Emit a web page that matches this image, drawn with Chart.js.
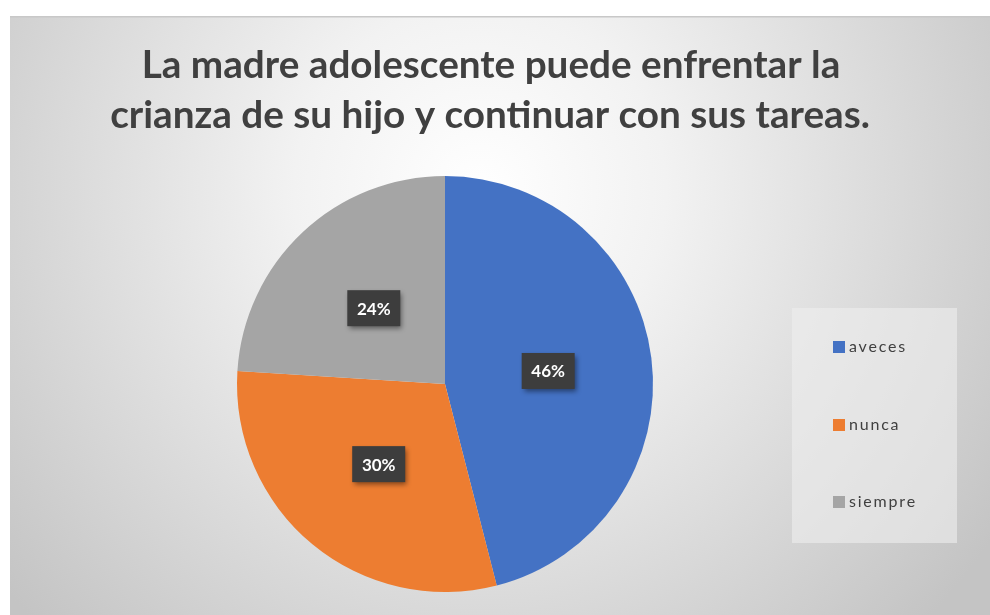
<!DOCTYPE html>
<html>
<head>
<meta charset="utf-8">
<script src="https://cdn.jsdelivr.net/npm/chart.js@4.4.1/dist/chart.umd.min.js"></script>
<style>
html,body{margin:0;padding:0;background:#fff;}
canvas{display:block;}
</style>
</head>
<body>
<canvas id="c" width="990" height="615"></canvas>
<script>
const categories = ["aveces", "nunca", "siempre"];
const values = [46, 30, 24];
const colors = ["#4472C4", "#ED7D31", "#A5A5A5"];
const titleLines = ["La madre adolescente puede enfrentar la", "crianza de su hijo y continuar con sus tareas."];

const bgPlugin = {
  id: "bg",
  beforeDraw(chart) {
    const ctx = chart.ctx;
    ctx.save();
    ctx.fillStyle = "#ffffff";
    ctx.fillRect(0, 0, chart.width, chart.height);
    const g = ctx.createRadialGradient(480, 190, 0, 480, 190, 620);
    g.addColorStop(0, "#ffffff");
    g.addColorStop(0.3, "#f2f2f2");
    g.addColorStop(1, "#c4c4c4");
    ctx.fillStyle = g;
    ctx.fillRect(10, 17, chart.width - 10, chart.height - 17);
    ctx.fillStyle = "#c8c8c8";
    ctx.fillRect(10, 16, chart.width - 10, 1.5);
    ctx.restore();
  }
};

const titlePlugin = {
  id: "centeredTitle",
  afterDraw(chart) {
    const ctx = chart.ctx;
    ctx.save();
    const fam = "Lato, 'Open Sans', sans-serif";
    ctx.font = "bold 36px " + fam;
    const w = ctx.measureText(titleLines[1]).width;
    const size = Math.min(44, 36 * 760 / w);
    ctx.font = "bold " + size.toFixed(1) + "px " + fam;
    ctx.fillStyle = "#404040";
    ctx.textAlign = "center";
    ctx.textBaseline = "alphabetic";
    ctx.fillText(titleLines[0], 491, 78);
    ctx.fillText(titleLines[1], 490, 128);
    ctx.restore();
  }
};

const labelPlugin = {
  id: "boxLabels",
  afterDatasetsDraw(chart) {
    const ctx = chart.ctx;
    const meta = chart.getDatasetMeta(0);
    const total = values.reduce((a, b) => a + b, 0);
    ctx.save();
    ctx.font = "bold 17px Lato, 'Open Sans', sans-serif";
    ctx.textAlign = "center";
    ctx.textBaseline = "middle";
    meta.data.forEach((arc, i) => {
      const p = arc.tooltipPosition();
      const txt = Math.round(values[i] / total * 100) + "%";
      const w = 53, h = 36;
      ctx.save();
      ctx.shadowColor = "rgba(0,0,0,0.45)";
      ctx.shadowBlur = 5;
      ctx.shadowOffsetX = 2;
      ctx.shadowOffsetY = 3;
      ctx.fillStyle = "#3d3d3d";
      ctx.fillRect(p.x - w / 2, p.y - h / 2, w, h);
      ctx.restore();
      ctx.fillStyle = "#ffffff";
      ctx.fillText(txt, p.x, p.y + 1);
    });
    ctx.restore();
  }
};

const legendPlugin = {
  id: "boxLegend",
  afterDraw(chart) {
    const ctx = chart.ctx;
    ctx.save();
    ctx.fillStyle = "rgba(238,238,238,0.6)";
    ctx.fillRect(792, 308, 165, 235);
    ctx.font = "16px Lato, 'Open Sans', sans-serif";
    if ("letterSpacing" in ctx) ctx.letterSpacing = "1.8px";
    ctx.textBaseline = "middle";
    ctx.textAlign = "left";
    const ys = [347, 425, 502];
    chart.data.labels.forEach((lab, i) => {
      ctx.fillStyle = chart.data.datasets[0].backgroundColor[i];
      ctx.fillRect(833, ys[i] - 6, 12, 12);
      ctx.fillStyle = "#404040";
      ctx.fillText(lab, 849, ys[i]);
    });
    ctx.restore();
  }
};

new Chart(document.getElementById("c"), {
  type: "pie",
  data: {
    labels: categories,
    datasets: [{
      data: values,
      backgroundColor: colors,
      borderWidth: 0
    }]
  },
  options: {
    responsive: false,
    animation: false,
    events: [],
    layout: { padding: { left: 237, right: 337, top: 176, bottom: 23 } },
    plugins: {
      legend: { display: false },
      tooltip: { enabled: false },
      title: { display: false }
    }
  },
  plugins: [bgPlugin, labelPlugin, legendPlugin, titlePlugin]
});
</script>
</body>
</html>
